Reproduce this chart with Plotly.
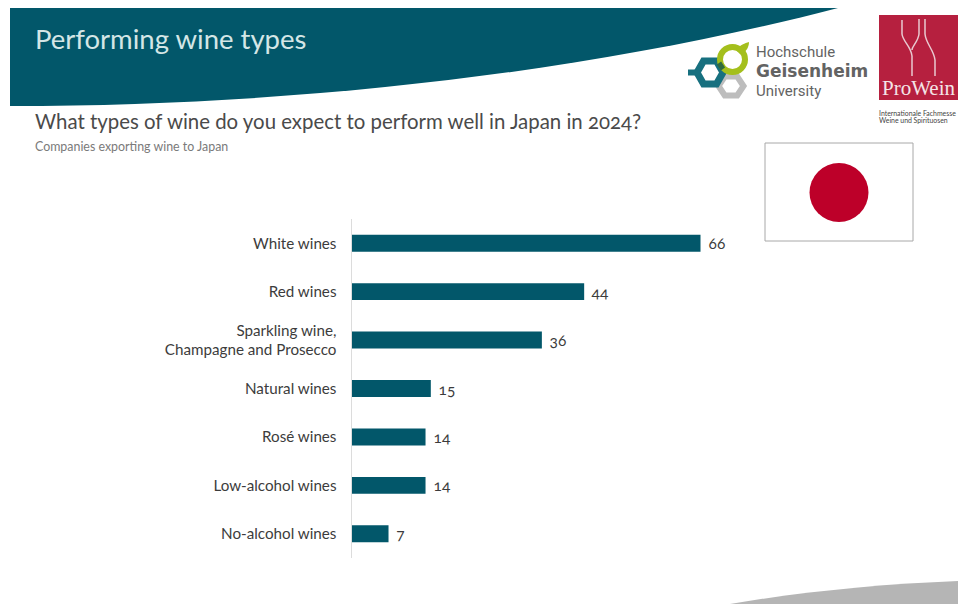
import plotly.graph_objects as go

W, H = 958, 604

categories = ["White wines", "Red wines", "Sparkling wine,<br>Champagne and Prosecco",
              "Natural wines", "Rosé wines", "Low-alcohol wines", "No-alcohol wines"]
values = [66, 44, 36, 15, 14, 14, 7]

TEAL = "#02576a"
FONT = "Lato"


def X(px):
    return px / W


def Y(py):
    return 1 - py / H


def path(*parts):
    """Build an SVG path from commands and pixel pairs, in paper fractions."""
    out = []
    for p in parts:
        if isinstance(p, str):
            out.append(p)
        else:
            out.append(f"{X(p[0]):.5f},{Y(p[1]):.5f}")
    return " ".join(out)


def shape_path(d, fill=None, line=None, width=0):
    return dict(type="path", xref="paper", yref="paper", path=d, layer="below",
                fillcolor=fill or "rgba(0,0,0,0)",
                line=dict(color=line or "rgba(0,0,0,0)", width=width))


def hexagon(cx, cy, rx, ry, color, width):
    pts = [(cx - rx, cy), (cx - rx / 2, cy - ry), (cx + rx / 2, cy - ry),
           (cx + rx, cy), (cx + rx / 2, cy + ry), (cx - rx / 2, cy + ry)]
    return shape_path(path("M", pts[0], "L", pts[1], "L", pts[2], "L", pts[3],
                           "L", pts[4], "L", pts[5], "Z"), line=color, width=width)


def rect(x0, y0, x1, y1, fill, line=None, width=0):
    return dict(type="rect", xref="paper", yref="paper", x0=X(x0), x1=X(x1), y0=Y(y0), y1=Y(y1),
                fillcolor=fill, line=dict(color=line or "rgba(0,0,0,0)", width=width), layer="below")


def label(x, y, text, size, color, anchor="left", family=FONT):
    return dict(xref="paper", yref="paper", x=X(x), y=Y(y), text=text, showarrow=False,
                xanchor=anchor, yanchor="middle", align=anchor,
                font=dict(family=family, size=size, color=color))


shapes = [
    # header band and footer wedge
    shape_path(path("M", (10, 8), "L", (838, 8), "C", (620, 65), (330, 106), (10, 106), "Z"), fill=TEAL),
    shape_path(path("M", (730, 604), "C", (800, 592), (880, 584), (958, 581), "L", (958, 604), "Z"), fill="#b5b5b5"),
    # university emblem
    hexagon(731, 86, 12.5, 9.5, "#bdbdbd", 6),
    hexagon(710, 72.5, 13, 11.5, "#17707f", 7),
    shape_path(path("M", (688, 72.5), "L", (697, 72.5)), line="#17707f", width=6),
    dict(type="circle", xref="paper", yref="paper", x0=X(720), x1=X(745), y0=Y(47), y1=Y(72),
         line=dict(color="#a4bf1c", width=6), fillcolor="rgba(0,0,0,0)", layer="below"),
    shape_path(path("M", (736, 50), "C", (740, 45), (745, 43), (749, 42), "C", (749, 47), (746, 53), (740, 54), "Z"),
               fill="#a4bf1c"),
    shape_path(path("M", (719, 63), "L", (723, 69)), line="#2f6b3e", width=5),
    # trade fair logo
    rect(879, 15, 958, 100, "#b6203f"),
    shape_path(path("M", (902, 20), "L", (902, 34), "C", (903, 42), (911, 46), (912, 56), "L", (912, 76)),
               line="#e9c9d0", width=1.5),
    shape_path(path("M", (919, 19), "L", (919, 34), "C", (918, 42), (912, 46), (912, 50)),
               line="#e9c9d0", width=1.5),
    shape_path(path("M", (925, 19), "L", (925, 34), "C", (926, 44), (934, 50), (935, 60), "L", (935, 76)),
               line="#e9c9d0", width=1.5),
    # national flag
    rect(765, 143, 913, 241, "#ffffff", "#a8a8a8", 1),
    dict(type="circle", xref="paper", yref="paper", x0=X(809.5), x1=X(868.5), y0=Y(163), y1=Y(222),
         fillcolor="#bd0029", line=dict(width=0), layer="below"),
]

annotations = [
    label(33, 39, "Performing wine types", 27.5, "#d4e6e6"),
    label(33, 121, "What types of wine do you expect to perform well in Japan in 2024?", 20.4, "#4a4a4a"),
    label(33, 146, "Companies exporting wine to Japan", 12.4, "#7a7a7a"),
    label(754, 72,
          "<span style='font-size:15px'>Hochschule</span><br>"
          "<span style='font-size:17px;font-family:DejaVu Sans;font-weight:bold'>Geisenheim</span><br>"
          "<span style='font-size:15px'>University</span>",
          15, "#636363", family="Roboto"),
    label(880, 88, "ProWein", 21, "#f4e4e7", family="Liberation Serif"),
    label(877, 116.5,
          "<span style='font-size:6.9px'>Internationale Fachmesse</span><br>"
          "<span style='font-size:6.9px'>Weine und Spirituosen</span>",
          5.6, "#444444"),
]

# value labels sit just past the bar ends
for cat, val in zip(categories, values):
    annotations.append(dict(x=val, y=cat, xref="x", yref="y", text=str(val), showarrow=False,
                            xanchor="left", yanchor="middle", xshift=5, yshift=0,
                            font=dict(family=FONT, size=15.5, color="#3c3c3c")))

fig = go.Figure(go.Bar(x=values, y=categories, orientation="h", marker=dict(color=TEAL, line=dict(width=0)),
                       width=0.35, hoverinfo="skip"))

fig.update_layout(
    width=W, height=H, margin=dict(l=0, r=0, t=0, b=0, autoexpand=False),
    paper_bgcolor="white", plot_bgcolor="white", showlegend=False,
    shapes=shapes, annotations=annotations,
    xaxis=dict(domain=[X(351.5), X(880.3)], range=[0, 100], visible=False),
    yaxis=dict(domain=[Y(558), Y(219)], autorange="reversed", type="category",
               showgrid=False, zeroline=False, showline=True, linecolor="#dcdcdc", linewidth=1,
               ticks="", ticklabelstandoff=11, automargin=False,
               tickfont=dict(family=FONT, size=15.2, color="#3c3c3c")),
)

fig.write_html("out.html", config=dict(displayModeBar=False),
               post_script="""
var s=document.createElement('style');
s.textContent='svg text{font-feature-settings:"onum" 1;font-variant-numeric:oldstyle-nums;}';
document.head.appendChild(s);
""")
